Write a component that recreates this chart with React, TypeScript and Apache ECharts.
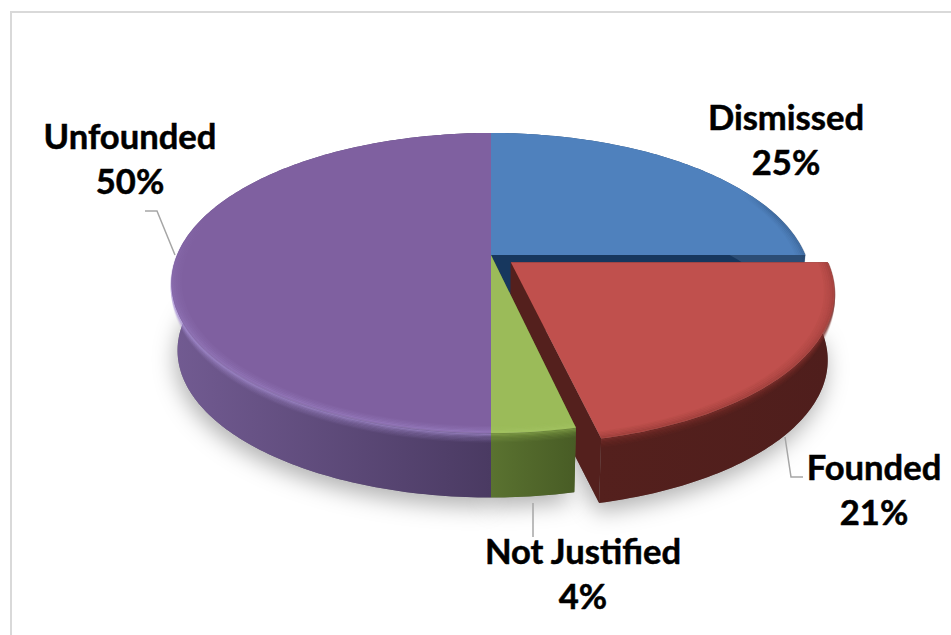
import React, { useEffect, useRef } from "react";
import * as echarts from "echarts";

// ---- data ----
const categories = ["Dismissed", "Founded", "Not Justified", "Unfounded"];
const shares = [25, 21.45, 3.55, 50];
const explodedSlice = [0, 0.08, 0, 0];

// ---- styling / layout ----
const paintOrder = [0, 2, 3, 1];
const faceColors = ["#4f81bd", "#c0504d", "#9bbb59", "#7f60a0"];
const sideColors = [
  ["#2c4d75", "#2c4d75"],
  ["#54201d", "#4f1e1c"],
  ["#5a7230", "#485c25"],
  ["#725b92", "#4a3a62"],
];
const wallColors = ["#17375e", "#54201d", "#4f6228", "#4a3a62"];
const rimColors = ["#2a4d78", "#7a2e2a", "#a9c96a", "#a68ed2"];
const rimUnderColors = ["#27476e", "#7f302c", "#8aa84d", "#a68ed2"];
const rimRange: Array<[number, number]> = [[62, 92], [90, 168], [167, 180], [180, 285]];
// which end of a rim fades out: x1, y1, x2, y2 of the stroke's gradient
const rimFade = [[0, 0, 1, 0], [0, 0, 0, 0], [0, 0, 0, 0], [0, 0, 0, 1]];
const labelCenters = [[786, 139], [874, 489], [583, 573], [130, 158]];
const FONT = '700 34.6px Lato, "Open Sans", sans-serif';
const LINE_H = 44.5;

const CX = 491;
const K = -0.1867;
const PLANE_TOP = { a: 314, b: 144.8, y: 255 };
const PLANE_BOT = { a: 308, b: 142, y: 323 };
const rad = Math.PI / 180;

function proj(deg: number, r: number, h: number, ex: number, ey: number): number[] {
  const u = r * Math.sin(deg * rad) + ex;
  const v = -r * Math.cos(deg * rad) + ey;
  const w = 1 + K * v;
  const a = PLANE_TOP.a + (PLANE_BOT.a - PLANE_TOP.a) * h;
  const b = PLANE_TOP.b + (PLANE_BOT.b - PLANE_TOP.b) * h;
  const y = PLANE_TOP.y + (PLANE_BOT.y - PLANE_TOP.y) * h;
  return [CX + (a * u) / w, y + (b * v) / w];
}

function arc(from: number, to: number, r: number, h: number, ex: number, ey: number) {
  const pts: number[][] = [];
  const n = Math.max(4, Math.ceil(Math.abs(to - from)));
  for (let i = 0; i <= n; i++) pts.push(proj(from + ((to - from) * i) / n, r, h, ex, ey));
  return pts;
}

function rimStroke(i: number, color: string) {
  const [x1, y1, x2, y2] = rimFade[i];
  if (x1 === x2 && y1 === y2) return color;
  return new echarts.graphic.LinearGradient(x1, y1, x2, y2, [
    { offset: 0, color: echarts.color.modifyAlpha(color, 0) },
    { offset: 0.5, color },
    { offset: 1, color },
  ]);
}

function renderSlice(params: any, api: any) {
  const i = params.dataIndex;
  const total = shares.reduce((s, x) => s + x, 0);
  const before = shares.slice(0, i).reduce((s, x) => s + x, 0);
  const from = (before / total) * 360;
  const to = ((before + api.value(0)) / total) * 360;
  const mid = (from + to) / 2;
  const d = explodedSlice[i];
  const ex = d * Math.sin(mid * rad);
  const ey = -d * Math.cos(mid * rad);
  const base = 10 + paintOrder[i] * 40;
  const children: any[] = [];

  // soft cast shadow
  children.push({
    type: "polygon",
    z2: 1,
    shape: { points: [proj(0, 0, 1, ex, ey), ...arc(from, to, 1, 1, ex, ey)] },
    style: {
      fill: "#8a8a8a",
      shadowBlur: 22,
      shadowOffsetY: 9,
      shadowOffsetX: -2,
      shadowColor: "rgba(0,0,0,0.3)",
    },
  });

  // inner walls
  [from, to].forEach((edge) => {
    children.push({
      type: "polygon",
      z2: base,
      shape: {
        points: [
          proj(0, 0, 0, ex, ey),
          proj(edge, 1, 0, ex, ey),
          proj(edge, 1, 1, ex, ey),
          proj(0, 0, 1, ex, ey),
        ],
      },
      style: { fill: wallColors[i] },
    });
  });

  // outer side
  children.push({
    type: "polygon",
    z2: base + 1,
    shape: { points: [...arc(from, to, 1, 0, ex, ey), ...arc(to, from, 1, 1, ex, ey)] },
    style: {
      fill: new echarts.graphic.LinearGradient(
        from < 180 ? 1 : 0, 0, from < 180 ? 0 : 1, 0,
        [
          { offset: 0, color: i === 3 ? sideColors[i][0] : sideColors[i][1] },
          { offset: 1, color: i === 3 ? sideColors[i][1] : sideColors[i][0] },
        ],
      ),
    },
  });

  // soft bevel, on the side just under the rim
  const [r0, r1] = rimRange[i];
  const a0 = Math.max(from, r0);
  const a1 = Math.min(to, r1);
  [[0.13, 0.06], [0.11, 0.1], [0.09, 0.14], [0.07, 0.2], [0.05, 0.28], [0.03, 0.38], [0.012, 0.5]].forEach(([h, op], n) => {
    children.push({
      type: "polyline",
      z2: base + 2 + n,
      shape: { points: arc(a0, a1, 1, h, ex, ey) },
      style: { stroke: rimStroke(i, rimUnderColors[i]), lineWidth: 2.2, opacity: op, fill: "none" },
    });
  });

  // top face
  children.push({
    type: "polygon",
    z2: base + 12,
    shape: { points: [proj(0, 0, 0, ex, ey), ...arc(from, to, 1, 0, ex, ey)] },
    style: { fill: faceColors[i] },
  });

  // bevel highlight on the face's rim
  [[0.972, 0.06], [0.978, 0.1], [0.984, 0.16], [0.99, 0.24], [0.996, 0.34]].forEach(([r, op], n) => {
    children.push({
      type: "polyline",
      z2: base + 13 + n,
      shape: { points: arc(a0, a1, r, 0, ex, ey) },
      style: { stroke: rimStroke(i, rimColors[i]), lineWidth: 2, opacity: op, fill: "none" },
    });
  });

  // label
  children.push({
    type: "text",
    z2: 300,
    style: {
      x: labelCenters[i][0],
      y: labelCenters[i][1],
      text: `${categories[i]}\n${Math.round(api.value(0))}%`,
      font: FONT,
      fill: "#000000",
      stroke: "#000000",
      lineWidth: 0.5,
      align: "center",
      verticalAlign: "middle",
      lineHeight: LINE_H,
    },
  });

  return { type: "group", children };
}

const leaderLines = [
  [[145, 211], [157, 211], [175, 255]],
  [[785, 437], [791, 477], [803, 477]],
  [[533, 503], [533, 537]],
];

export default function App() {
  const ref = useRef<HTMLDivElement>(null);
  useEffect(() => {
    document.body.style.margin = "0";
    const chart = echarts.init(ref.current!, undefined, { renderer: "svg" });
    chart.setOption({
      animation: false,
      backgroundColor: "#ffffff",
      graphic: [
        {
          type: "rect",
          z: 0,
          shape: { x: 11, y: 12, width: 960, height: 640 },
          style: { fill: "#ffffff", stroke: "#d9d9d9", lineWidth: 2 },
        },
        ...leaderLines.map((points) => ({
          type: "polyline",
          z: 10,
          shape: { points },
          style: { stroke: "#a6a6a6", lineWidth: 1.5, fill: "none" },
        })),
      ],
      series: [
        {
          type: "custom",
          coordinateSystem: "none",
          z: 5,
          silent: true,
          data: shares,
          renderItem: renderSlice,
        },
      ],
    });
    return () => chart.dispose();
  }, []);
  return <div ref={ref} style={{ position: "absolute", left: 0, top: 0, width: 951, height: 635 }} />;
}
